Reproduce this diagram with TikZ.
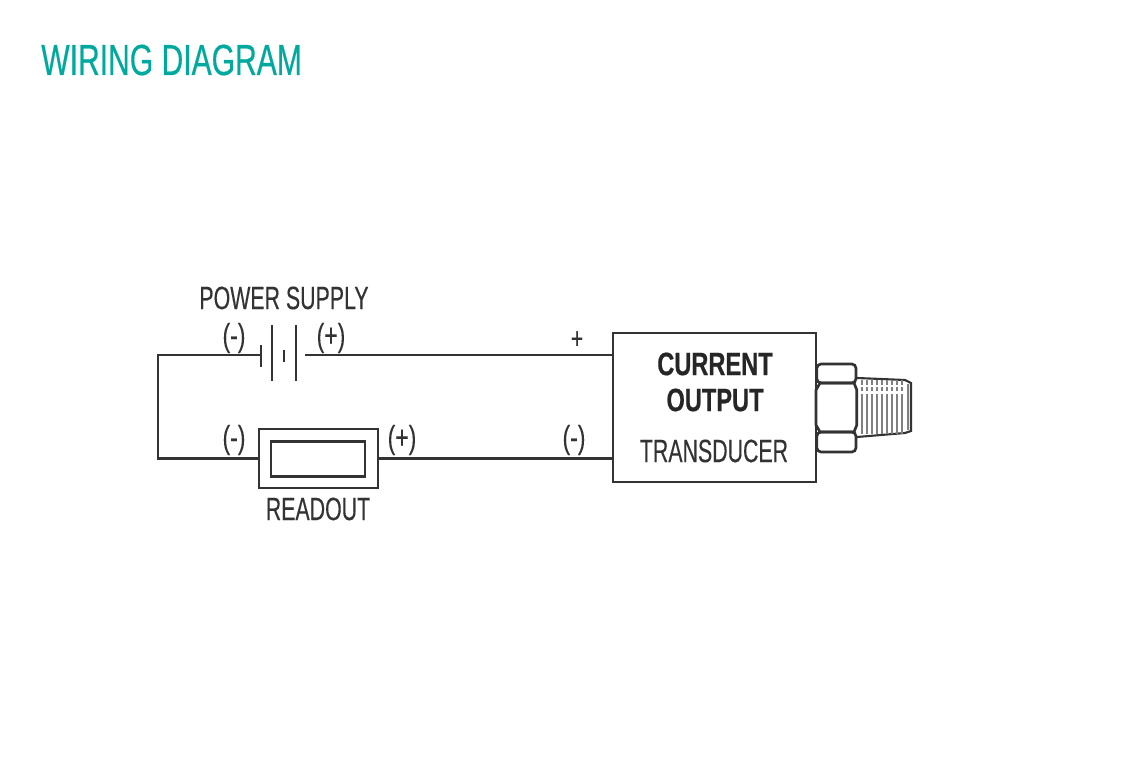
\documentclass[tikz,border=0pt]{standalone}
\usepackage{fontspec}
\setmainfont[FakeStretch=0.66,FakeBold=0.25]{Liberation Sans}
\newfontfamily\titlefont[FakeStretch=0.69,FakeBold=0.4]{Liberation Sans}
\newfontfamily\markfont[FakeStretch=0.71,FakeBold=0.2]{Liberation Sans}
\newfontfamily\headfont[FakeStretch=0.73,FakeBold=0.5]{Liberation Sans Bold}
\usetikzlibrary{positioning}
\definecolor{inkgray}{HTML}{333333}
\definecolor{titleteal}{HTML}{00A99D}
\tikzset{
    wire/.style={draw=inkgray, line width=1.9pt},
    plate/.style={draw=inkgray, line width=1.5pt},
    short plate/.style={draw=inkgray, line width=2pt},
    box/.style={draw=inkgray, line width=1.9pt, inner sep=0pt},
    label/.style={text=inkgray, font=\fontsize{23}{25}\selectfont, inner sep=0pt},
    mark label/.style={text=inkgray, font=\markfont\fontsize{23}{25}\selectfont, inner sep=0pt},
    bold label/.style={text=black!85, font=\headfont\fontsize{23}{25}\selectfont, inner sep=0pt},
}
\begin{document}
\begin{tikzpicture}
    \useasboundingbox (0,0) rectangle (28.35,18.9);
    \node[text=titleteal, font=\titlefont\fontsize{31}{33}\selectfont, inner sep=0pt] (title) at (4.29,17.4) {WIRING DIAGRAM};

    % Battery
    \coordinate (batneg) at (6.525,10.025);
    \coordinate (batpos) at (7.625,10.025);
    \coordinate (corner) at (3.95,10.025);
    \draw[short plate] (6.525,9.725) -- (6.525,10.275);
    \draw[plate] (6.8,9.375) -- (6.8,10.775);
    \draw[short plate] (7.1,9.85) -- (7.1,10.15);
    \draw[plate] (7.4,9.375) -- (7.4,10.775);
    \node[label] (supply) at (7.1,11.45) {POWER SUPPLY};

    % Readout
    \node[box, minimum width=2.975cm, minimum height=1.475cm] (readout) at (7.9625,7.4375) {};
    \node[box, minimum width=2.35cm, minimum height=0.8875cm] (display) at (7.95,7.425) {};
    \node[label] (readoutname) at (7.95,6.175) {READOUT};

    % Transducer
    \node[box, minimum width=5.075cm, minimum height=3.725cm] (transducer) at (17.8625,8.7125) {};
    \node[bold label] (current) at (17.875,9.8) {CURRENT};
    \node[bold label] (output) at (17.875,8.9) {OUTPUT};
    \node[label] (type) at (17.85,7.625) {TRANSDUCER};

    % Wires
    \draw[wire] (batneg) -- (corner) |- (readout.west);
    \draw[wire] (batpos) -- (batpos -| transducer.west);
    \draw[wire] (readout.east) -- (readout.east -| transducer.west);

    % Polarity marks
    \foreach \n/\x/\y/\t in {a/5.85/10.45/(-), b/8.275/10.45/(+), c/5.85/7.9/(-), d/10.05/7.9/(+), e/14.35/7.9/(-)}
        \node[mark label] (mark\n) at (\x,\y) {\t};
    \node[text=inkgray, font=\markfont\fontsize{21}{23}\selectfont, inner sep=0pt] (markf) at (14.425,10.4) {+};

    % Fitting
    \draw[box, rounded corners=3pt] (20.42,9.325) -- (20.42,9.8) -- (21.4,9.8) -- (21.4,9.325) -- cycle;
    \draw[box, rounded corners=3pt] (20.42,8.1) -- (20.42,7.6) -- (21.4,7.6) -- (21.4,8.1) -- cycle;
    \draw[box] (20.5,9.325) -- (21.35,9.325) -- (21.42,9.15) -- (21.42,8.275) -- (21.35,8.1) -- (20.5,8.1) -- (20.4,8.275) -- (20.4,9.15) -- cycle;
    \draw[wire, line width=1.5pt] (21.425,9.45) -- (22.625,9.4) -- (22.775,9.325) -- (22.775,8.125) -- (22.625,8.075) -- (21.425,7.975);
    \foreach \x in {21.55,21.675,...,22.6} {
        \draw[draw=gray, line width=1.2pt] (\x,8.05) -- (\x,9.05);
        \draw[draw=gray, line width=1.2pt] (\x,9.12) -- (\x,9.22);
        \draw[draw=gray, line width=1.2pt] (\x,9.28) -- (\x,9.4);
    }
    \draw[draw=gray, line width=2pt] (22.7,8.15) -- (22.7,9.3);
\end{tikzpicture}
\end{document}
